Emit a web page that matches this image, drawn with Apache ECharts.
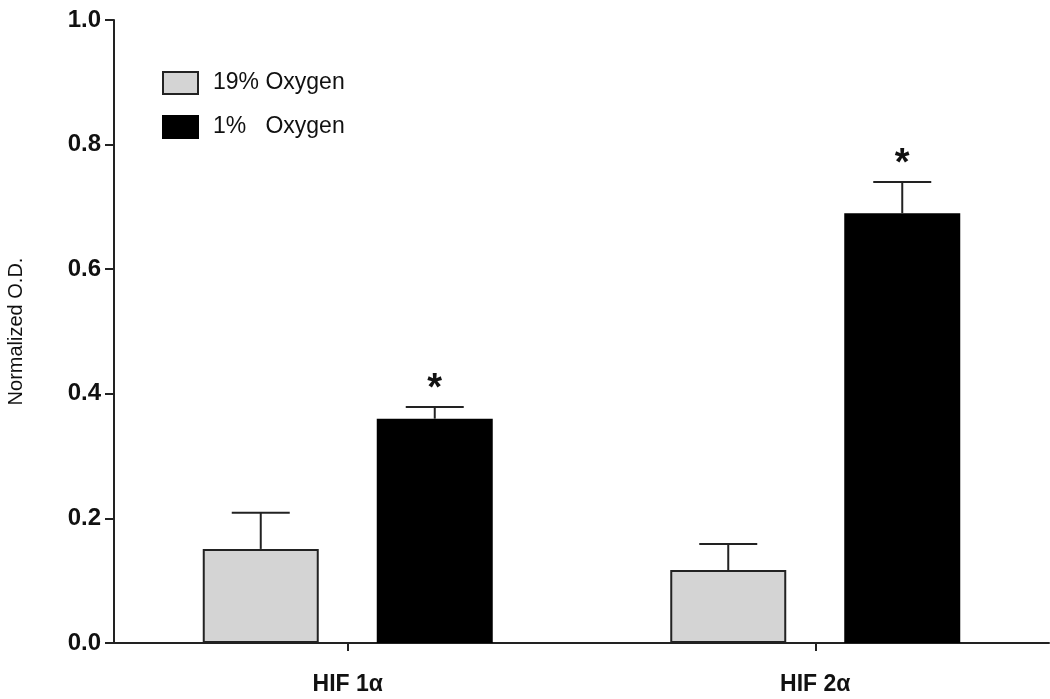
<!DOCTYPE html>
<html>
<head>
<meta charset="utf-8">
<script src="https://cdn.jsdelivr.net/npm/echarts@6/dist/echarts.min.js"></script>
<style>html,body{margin:0;padding:0;background:#fff}#c{width:1050px;height:699px}</style>
</head>
<body>
<div id="c"></div>
<script>
var categories = ['HIF 1\u03b1', 'HIF 2\u03b1'];
var seriesNames = ['19% Oxygen', '1%   Oxygen'];
var normoxia = [0.151, 0.117];
var normoxiaErrTop = [0.209, 0.159];
var hypoxia = [0.360, 0.690];
var hypoxiaErrTop = [0.379, 0.740];
var hypoxiaSig = [true, true];
var yTicks = [0, 0.2, 0.4, 0.6, 0.8, 1.0];

var BAR_W = 116, GAP = 58;
var FONT = '"Liberation Sans", Arial, sans-serif';
var chart = echarts.init(document.getElementById('c'));

function errSeries(vals, tops, sig, dir) {
  return {
    type: 'custom',
    z: 5,
    silent: true,
    data: vals.map(function (v, i) { return [i, v, tops[i], sig ? (sig[i] ? 1 : 0) : 0]; }),
    renderItem: function (params, api) {
      var off = dir * (BAR_W / 2 + GAP / 2);
      var base = api.coord([api.value(0), api.value(1)]);
      var top = api.coord([api.value(0), api.value(2)]);
      var x = base[0] + off;
      var cap = BAR_W / 4;
      var style = { stroke: '#222', lineWidth: 2 };
      var children = [
        { type: 'line', shape: { x1: x, y1: base[1], x2: x, y2: top[1] }, style: style },
        { type: 'line', shape: { x1: x - cap, y1: top[1], x2: x + cap, y2: top[1] }, style: style }
      ];
      if (api.value(3)) {
        children.push({ type: 'text', style: { text: '*', x: x, y: top[1] + 2, align: 'center', verticalAlign: 'bottom', font: 'bold 38px ' + FONT, fill: '#111' } });
      }
      return { type: 'group', children: children };
    }
  };
}

chart.setOption({
  animation: false,
  grid: { left: 114, right: 1, top: 20, bottom: 56, outerBoundsMode: 'none', containLabel: false },
  legend: {
    left: 157, top: 66, orient: 'vertical', icon: 'rect',
    itemWidth: 35, itemHeight: 22, itemGap: 20,
    data: seriesNames,
    textStyle: { fontSize: 23, color: '#111', fontFamily: FONT, padding: [0, 0, 0, 10] }
  },
  xAxis: {
    type: 'category', data: categories,
    axisLine: { lineStyle: { color: '#222', width: 2 } },
    axisTick: { show: true, alignWithLabel: true, interval: 0, length: 8, lineStyle: { color: '#222', width: 2 } },
    axisLabel: { fontSize: 23, fontWeight: 'bold', color: '#111', margin: 30, fontFamily: FONT }
  },
  yAxis: {
    type: 'value', min: 0, max: 1, interval: 0.2,
    name: 'Normalized O.D.', nameLocation: 'middle', nameGap: 88, nameRotate: 90,
    nameTextStyle: { fontSize: 20, color: '#111', fontFamily: FONT },
    splitLine: { show: false },
    axisLine: { show: true, lineStyle: { color: '#222', width: 2 } },
    axisTick: { show: true, length: 9, lineStyle: { color: '#222', width: 2 } },
    axisLabel: {
      fontSize: 24, fontWeight: 'bold', color: '#111', margin: 13,
      fontFamily: FONT,
      formatter: function (v) { return v.toFixed(1); }
    }
  },
  series: [
    { name: seriesNames[0], type: 'bar', data: normoxia, barWidth: BAR_W, barGap: '50%',
      itemStyle: { color: '#d4d4d4', borderColor: '#222', borderWidth: 2 } },
    { name: seriesNames[1], type: 'bar', data: hypoxia, barWidth: BAR_W,
      itemStyle: { color: '#000', borderColor: '#000', borderWidth: 2 } },
    errSeries(normoxia, normoxiaErrTop, null, -1),
    errSeries(hypoxia, hypoxiaErrTop, hypoxiaSig, 1)
  ]
});
</script>
</body>
</html>
